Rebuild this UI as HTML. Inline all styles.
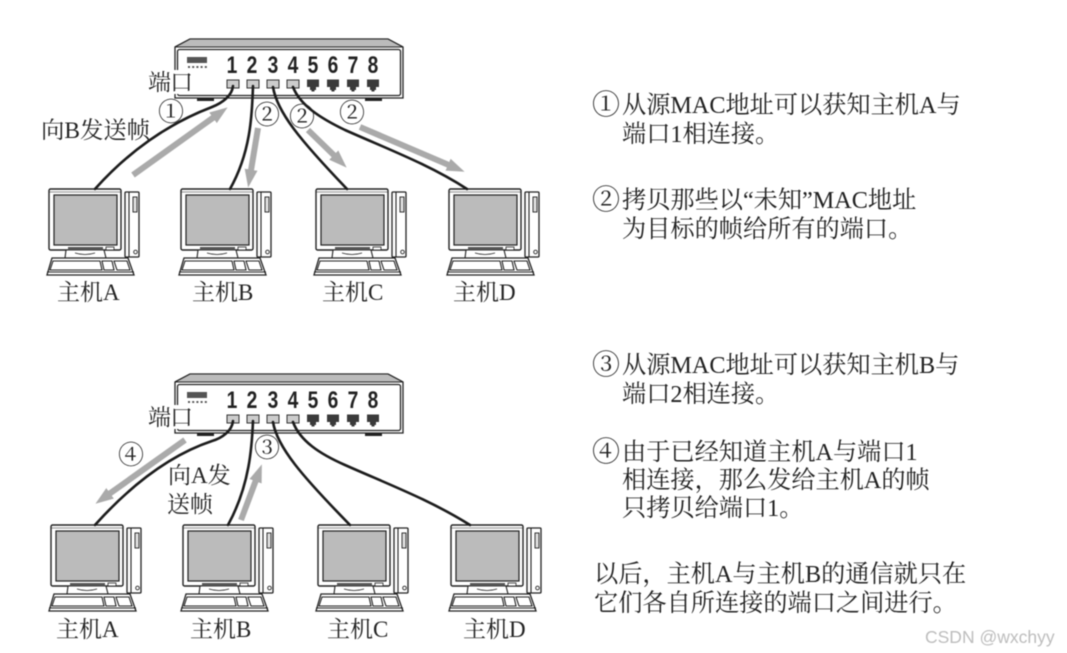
<!DOCTYPE html>
<html><head><meta charset="utf-8">
<style>
html,body{margin:0;padding:0;background:#fff}
svg{display:block;filter:blur(.4px)}
.t{font-family:"Liberation Serif","Noto Serif CJK SC",serif;fill:#222}
.r{font-size:24.2px}
.l{font-size:23px}
.n{font-family:"Liberation Sans",sans-serif;font-weight:bold;font-size:24px;fill:#222}
.c{font-family:"Noto Serif CJK SC",serif;font-size:26px;fill:#222;text-anchor:middle}
.q{font-family:"Noto Serif CJK SC",serif;font-size:28px;fill:#222}
.w{fill:none;stroke:#1c1c1c;stroke-width:2.6;stroke-linecap:round}
.a{stroke:#aaa;stroke-width:6;fill:none;marker-end:url(#ah)}
.z{font-family:"Noto Serif CJK SC",serif}
</style></head><body>
<svg width="1067" height="653" viewBox="0 0 1067 653" xmlns="http://www.w3.org/2000/svg">
<rect width="1067" height="653" fill="#fff"/>
<defs>
<marker id="ah" markerUnits="userSpaceOnUse" markerWidth="20" markerHeight="16" refX="0.5" refY="8" orient="auto"><path d="M0 1.500L18 8L0 14.500Z" fill="#aaa"/></marker>
<g id="pc" fill="#fff" stroke="#222" stroke-width="1.1">
  <rect x="49" y="189" width="72" height="61" rx="1.5" stroke-width="1.4"/>
  <rect x="54" y="195" width="63" height="50" fill="#bbb" stroke-width="1.2"/>
  <path d="M49 192H121" fill="none" stroke-width=".6"/>
  <rect x="106" y="247" width="8" height="3" stroke-width=".8"/>
  <path d="M66 250L65 258H106L104 250Z"/>
  <path d="M68 247H103V250H68Z" fill="#555" stroke="none"/>
  <path d="M75 253Q85 256 95 253" fill="none" stroke-width=".7"/>
  <rect x="125" y="192" width="14" height="65" rx="1" stroke-width="1.3"/>
  <path d="M129 192V257" fill="none"/>
  <rect x="133" y="197" width="4" height="15" fill="#ddd" stroke-width=".9"/>
  <circle cx="135.500" cy="252" r="1.800" stroke-width=".9"/>
  <path d="M52 258H128L134 275H47Z" stroke-width="1.3"/>
  <path d="M53 261H100L102 270H50Z" fill="#fff"/>
  <path d="M102 261H112L114 270H104Z"/>
  <path d="M114 261H127L130 270H117Z"/>
  <path d="M47 272H134" fill="none"/>
</g>
<g id="port"><rect x="-6" y="0" width="12" height="8" fill="#ccc" stroke="#333" stroke-width="1"/></g>
<path id="dport" d="M-6 -0.500H6V7H3V10H1.500V11.500H-1.500V10H-3V7H-6Z" fill="#3a3a3a"/>
<g id="sw">
  <path d="M175 47L190 39H388L403 47V98H175Z" fill="#fff" stroke="#222" stroke-width="1.3"/>
  <path d="M190 39H388L403 47H175Z" fill="#bbb" stroke="#222" stroke-width="1"/>
  <rect x="177.500" y="49.500" width="223" height="46" rx="2" fill="#fff" stroke="#222" stroke-width="1.300"/>
  <rect x="197" y="98" width="17" height="3" fill="#222"/>
  <rect x="365" y="98" width="17" height="3" fill="#222"/>
  <rect x="187" y="57" width="20" height="6" fill="#555"/>
  <path d="M188 67H207" stroke="#444" stroke-width="1.800" stroke-dasharray="2 2.200" fill="none"/>
  <use href="#port" x="233" y="80"/><use href="#port" x="253" y="80"/><use href="#port" x="273" y="80"/><use href="#port" x="293" y="80"/>
  <use href="#dport" x="313" y="80"/><use href="#dport" x="333" y="80"/><use href="#dport" x="353" y="80"/><use href="#dport" x="373" y="80"/>
  <rect x="170" y="70" width="24" height="24" fill="#fff"/>
</g>
</defs>

<!-- top switch -->
<use href="#sw"/>
<g class="n" text-anchor="middle">
  <text transform="translate(232 73) scale(.8 1)">1</text>
  <text transform="translate(252 73) scale(.8 1)">2</text>
  <text transform="translate(273 73) scale(.8 1)">3</text>
  <text transform="translate(293 73) scale(.8 1)">4</text>
  <text transform="translate(313 73) scale(.8 1)">5</text>
  <text transform="translate(333 73) scale(.8 1)">6</text>
  <text transform="translate(353 73) scale(.8 1)">7</text>
  <text transform="translate(373 73) scale(.8 1)">8</text>
</g>
<use href="#pc"/><use href="#pc" x="132"/><use href="#pc" x="267"/><use href="#pc" x="400"/>
<path class="w" d="M233 86C232 96 222 103 212 107C170 123 130 150 95 189"/>
<path class="w" d="M253 86C252 110 252 150 230 189"/>
<path class="w" d="M273 87C277 112 300 140 347 189"/>
<path class="w" d="M293 87C300 105 320 118 345 130C390 150 430 165 467 189"/>
<path class="a" d="M133 175L213.400 117.500"/>
<path class="a" d="M258 128L251 170.200"/>
<path class="a" d="M308 130L334.100 155.400"/>
<path class="a" d="M360 127L448.500 164.900"/>
<text class="t l" x="148" y="90" letter-spacing="-1">端口</text>
<text class="t" style="font-size:23.4px" x="41" y="138">向B发送帧</text>
<text class="c" x="171" y="121">①</text>
<text class="c" x="267" y="124">②</text>
<text class="c" x="302" y="126">②</text>
<text class="c" x="352" y="122">②</text>
<text class="t l" x="57" y="300">主机A</text>
<text class="t l" x="192" y="300">主机B</text>
<text class="t l" x="322" y="300">主机C</text>
<text class="t l" x="453" y="300">主机D</text>

<!-- bottom switch -->
<use href="#sw" y="335"/>
<g class="n" text-anchor="middle">
  <text transform="translate(232 408) scale(.8 1)">1</text>
  <text transform="translate(252 408) scale(.8 1)">2</text>
  <text transform="translate(273 408) scale(.8 1)">3</text>
  <text transform="translate(293 408) scale(.8 1)">4</text>
  <text transform="translate(313 408) scale(.8 1)">5</text>
  <text transform="translate(333 408) scale(.8 1)">6</text>
  <text transform="translate(353 408) scale(.8 1)">7</text>
  <text transform="translate(373 408) scale(.8 1)">8</text>
</g>
<use href="#pc" x="2" y="336"/><use href="#pc" x="134" y="336"/><use href="#pc" x="269" y="336"/><use href="#pc" x="402" y="336"/>
<path class="w" d="M233 421C232 431 222 438 212 441C170 455 130 486 95 525"/>
<path class="w" d="M253 421C252 445 250 485 228 525"/>
<path class="w" d="M273 422C277 447 302 476 350 525"/>
<path class="w" d="M293 422C300 441 320 454 345 465C390 485 430 500 470 525"/>
<path class="a" d="M185 440L109.700 493.600"/>
<path class="a" d="M241 520L255.700 480.800"/>
<text class="t l" x="148" y="425" letter-spacing="-1">端口</text>
<text class="t l" x="168" y="483">向A发</text>
<text class="t l" x="167" y="512">送帧</text>
<text class="c" x="131" y="464">④</text>
<text class="c" x="267" y="457">③</text>
<text class="t l" x="56" y="637">主机A</text>
<text class="t l" x="190" y="637">主机B</text>
<text class="t l" x="327" y="637">主机C</text>
<text class="t l" x="463" y="637">主机D</text>

<!-- right text -->
<text class="q" x="592" y="114">①</text>
<text class="q" x="592" y="209">②</text>
<text class="q" x="592" y="374">③</text>
<text class="q" x="592" y="461">④</text>
<g class="t r">
  <text x="622" y="113">从源MAC地址可以获知主机A与</text>
  <text x="622" y="142">端口1相连接。</text>
  <text x="622" y="208">拷贝那些以“未知”MAC地址</text>
  <text x="622" y="237">为目标的帧给所有的端口。</text>
  <text x="622" y="373">从源MAC地址可以获知主机B与</text>
  <text x="622" y="402">端口2相连接。</text>
  <text x="622" y="460">由于已经知道主机A与端口1</text>
  <text x="622" y="488">相连接&#xFF0C;那么发给主机A的帧</text>
  <text x="622" y="516">只拷贝给端口1。</text>
  <text x="594" y="582">以后&#xFF0C;主机A与主机B的通信就只在</text>
  <text x="594" y="611">它们各自所连接的端口之间进行。</text>
</g>
<text x="925" y="643" style="font-family:'Liberation Sans',sans-serif;font-size:17.500px;fill:#bdbdbd">CSDN @wxchyy</text>
</svg>
</body></html>
